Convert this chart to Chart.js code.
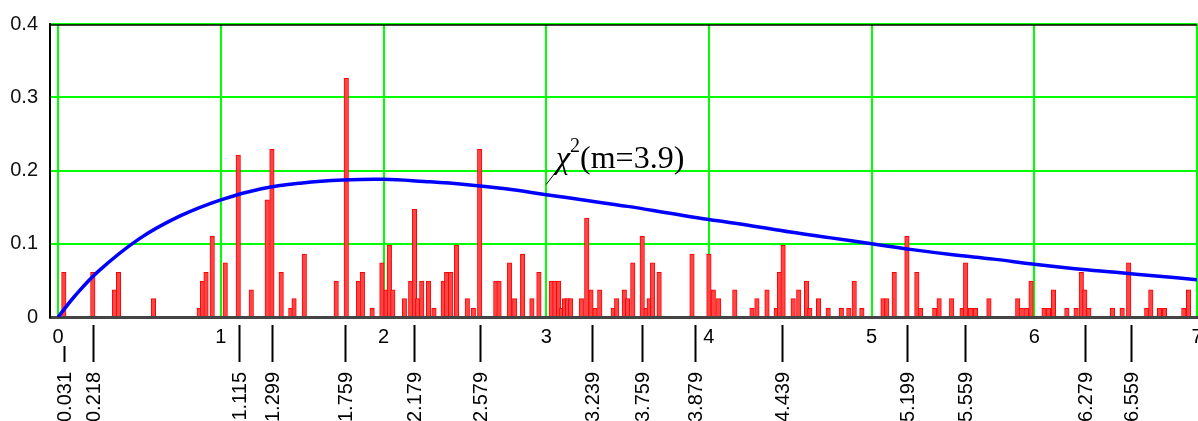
<!DOCTYPE html>
<html>
<head>
<meta charset="utf-8">
<script src="https://cdn.jsdelivr.net/npm/chart.js@4.4.1/dist/chart.umd.min.js"></script>
<style>
  html, body { margin:0; padding:0; background:#fff; }
  #wrap { width:1198px; height:421px; }
</style>
</head>
<body>
<div id="wrap"><canvas id="chart" width="1198" height="421"></canvas></div>
<script>
/* histogram bars: position and relative frequency */
const binX = [
  0.035, 0.213, 0.346, 0.371, 0.586, 0.867, 0.887, 0.909, 0.947, 1.027,
  1.107, 1.187, 1.285, 1.314, 1.371, 1.430, 1.450, 1.513, 1.709, 1.771,
  1.846, 1.870, 1.930, 1.990, 2.016, 2.036, 2.057, 2.128, 2.167, 2.190,
  2.210, 2.235, 2.277, 2.310, 2.367, 2.388, 2.413, 2.448, 2.515, 2.552,
  2.591, 2.690, 2.710, 2.775, 2.806, 2.855, 2.912, 2.955, 3.031, 3.053,
  3.076, 3.095, 3.113, 3.131, 3.150, 3.216, 3.249, 3.275, 3.300, 3.329,
  3.412, 3.433, 3.480, 3.500, 3.532, 3.590, 3.614, 3.633, 3.654, 3.694,
  3.896, 4.000, 4.027, 4.060, 4.159, 4.265, 4.295, 4.357, 4.414, 4.434,
  4.456, 4.518, 4.552, 4.600, 4.620, 4.674, 4.733, 4.814, 4.860, 4.893,
  4.940, 5.070, 5.093, 5.139, 5.217, 5.278, 5.300, 5.388, 5.415, 5.492,
  5.556, 5.578, 5.607, 5.638, 5.721, 5.898, 5.920, 5.953, 5.980, 6.060,
  6.087, 6.118, 6.200, 6.257, 6.289, 6.310, 6.335, 6.480, 6.540, 6.580,
  6.691, 6.716, 6.770, 6.800, 6.919, 6.948
];
const binY = [
  0.061, 0.061, 0.037, 0.061, 0.025, 0.012, 0.049, 0.061, 0.110, 0.074,
  0.221, 0.037, 0.160, 0.229, 0.061, 0.012, 0.025, 0.086, 0.049, 0.326,
  0.049, 0.061, 0.012, 0.074, 0.037, 0.098, 0.037, 0.025, 0.049, 0.147,
  0.025, 0.049, 0.049, 0.012, 0.049, 0.061, 0.061, 0.098, 0.025, 0.012,
  0.229, 0.049, 0.049, 0.074, 0.025, 0.086, 0.025, 0.061, 0.049, 0.049,
  0.049, 0.012, 0.025, 0.025, 0.025, 0.025, 0.135, 0.037, 0.012, 0.037,
  0.012, 0.025, 0.037, 0.025, 0.074, 0.110, 0.012, 0.025, 0.074, 0.061,
  0.086, 0.086, 0.037, 0.025, 0.037, 0.012, 0.025, 0.037, 0.012, 0.061,
  0.098, 0.025, 0.037, 0.049, 0.012, 0.025, 0.012, 0.012, 0.012, 0.049,
  0.012, 0.025, 0.025, 0.061, 0.110, 0.061, 0.012, 0.012, 0.025, 0.025,
  0.012, 0.074, 0.012, 0.012, 0.025, 0.025, 0.012, 0.012, 0.049, 0.012,
  0.012, 0.037, 0.012, 0.012, 0.061, 0.037, 0.012, 0.012, 0.012, 0.074,
  0.012, 0.037, 0.012, 0.012, 0.012, 0.037
];

/* blue density curve */
const curveX = [0, 0.1, 0.25, 0.5, 0.75, 1, 1.25, 1.5, 1.75, 2, 2.25, 2.5, 2.75, 3, 3.25, 3.5,
  3.75, 4, 4.25, 4.5, 4.75, 5, 5.25, 5.5, 5.75, 6, 6.25, 6.5, 6.75, 7];
const curveY = [0, 0.028, 0.063, 0.107, 0.138, 0.160, 0.175, 0.183, 0.187, 0.188, 0.185, 0.181,
  0.175, 0.167, 0.159, 0.151, 0.142, 0.133, 0.125, 0.116, 0.108, 0.100, 0.092, 0.085, 0.079,
  0.072, 0.066, 0.061, 0.056, 0.051];

const xTicks = [0, 1, 2, 3, 4, 5, 6, 7];
// marker labels under the axis, and where each one sits on the x scale in the picture
const markerLabels = ['0.031', '0.218', '1.115', '1.299', '1.759', '2.179', '2.579', '3.239',
  '3.759', '3.879', '4.439', '5.199', '5.559', '6.279', '6.559'];
const markerX = [0.033, 0.213, 1.109, 1.316, 1.765, 2.185, 2.591, 3.282,
  3.590, 3.912, 4.450, 5.220, 5.574, 6.310, 6.593];
const curveLabel = { name: 'χ', sup: '2', rest: '(m=3.9)', x: 3.06, y: 0.203, anchorX: 3.0, anchorY: 0.181 };

const FONT = 'Liberation Sans, Arial, sans-serif';

const frameAndMarks = {
  id: 'frameAndMarks',
  afterDraw(chart) {
    const { ctx, chartArea: a, scales: { x, y } } = chart;
    ctx.save();
    // top frame line under the 0.4 grid
    ctx.strokeStyle = '#000';
    ctx.lineWidth = 1.5;
    ctx.beginPath(); ctx.moveTo(a.left, a.top + 1); ctx.lineTo(a.right, a.top + 1); ctx.stroke();

    // value markers under the axis
    ctx.font = '20px ' + FONT;
    ctx.fillStyle = '#000';
    ctx.lineWidth = 2;
    markerX.forEach((m, i) => {
      const px = Math.round(x.getPixelForValue(m)) + 0.5;
      const nearTick = xTicks.some(t => Math.abs(x.getPixelForValue(t) - px) < 10);
      ctx.beginPath();
      ctx.moveTo(px, nearTick ? a.bottom + 29 : a.bottom + 8);
      ctx.lineTo(px, a.bottom + 45);
      ctx.stroke();
      ctx.save();
      ctx.translate(px, a.bottom + 55);
      ctx.rotate(-Math.PI / 2);
      ctx.textAlign = 'right';
      ctx.textBaseline = 'middle';
      ctx.fillText(markerLabels[i], 0, 1);
      ctx.restore();
    });

    // curve label with leader line
    const tx = x.getPixelForValue(curveLabel.x), ty = y.getPixelForValue(curveLabel.y);
    ctx.lineWidth = 1;
    ctx.beginPath();
    ctx.moveTo(x.getPixelForValue(curveLabel.anchorX), y.getPixelForValue(curveLabel.anchorY));
    ctx.lineTo(tx + 5, ty - 3);
    ctx.stroke();
    ctx.textBaseline = 'alphabetic';
    ctx.textAlign = 'left';
    ctx.font = 'italic 32px Liberation Serif, serif';
    ctx.fillText(curveLabel.name, tx, ty);
    let cx = tx + ctx.measureText(curveLabel.name).width;
    ctx.font = '20px Liberation Serif, serif';
    ctx.fillText(curveLabel.sup, cx, ty - 16);
    cx += ctx.measureText(curveLabel.sup).width;
    ctx.font = '32px Liberation Serif, serif';
    ctx.fillText(curveLabel.rest, cx, ty);
    ctx.restore();
  }
};

new Chart(document.getElementById('chart'), {
  type: 'bar',
  data: {
    datasets: [
      {
        type: 'line',
        data: curveX.map((v, i) => ({ x: v, y: curveY[i] })),
        borderColor: '#0000ff',
        borderWidth: 3.5,
        pointRadius: 0,
        tension: 0.4,
        fill: false,
        order: 0,
      },
      {
        type: 'bar',
        data: binX.map((v, i) => ({ x: v, y: binY[i] })),
        backgroundColor: '#ff4646',
        borderColor: '#ff0000',
        borderWidth: 1,
        barThickness: 4.5,
        grouped: false,
        order: 1,
      },
    ],
  },
  options: {
    responsive: false,
    animation: false,
    events: [],
    layout: { padding: { left: 0, top: 24, right: 1, bottom: 0 } },
    plugins: { legend: { display: false }, tooltip: { enabled: false } },
    scales: {
      x: {
        type: 'linear',
        offset: false,
        min: -0.05,
        max: 7,
        afterBuildTicks: s => { s.ticks = xTicks.map(v => ({ value: v })); },
        afterFit: s => { s.height = 104; s.paddingLeft = 0; s.paddingRight = 0; },
        grid: { color: '#00ff00', lineWidth: 2, drawTicks: false, offset: false },
        border: { display: true, color: '#444', width: 3 },
        ticks: { color: '#000', font: { family: FONT, size: 20 }, padding: 8, maxRotation: 0, autoSkip: false },
      },
      y: {
        min: 0,
        max: 0.4,
        ticks: { stepSize: 0.1, color: '#111', font: { family: FONT, size: 20 }, padding: 12 },
        afterFit: s => { s.width = 50; s.paddingTop = 0; s.paddingBottom = 0; },
        grid: { color: '#00ff00', lineWidth: 2, drawTicks: false },
        border: { display: true, color: '#000', width: 2 },
      },
    },
  },
  plugins: [frameAndMarks],
});
</script>
</body>
</html>
